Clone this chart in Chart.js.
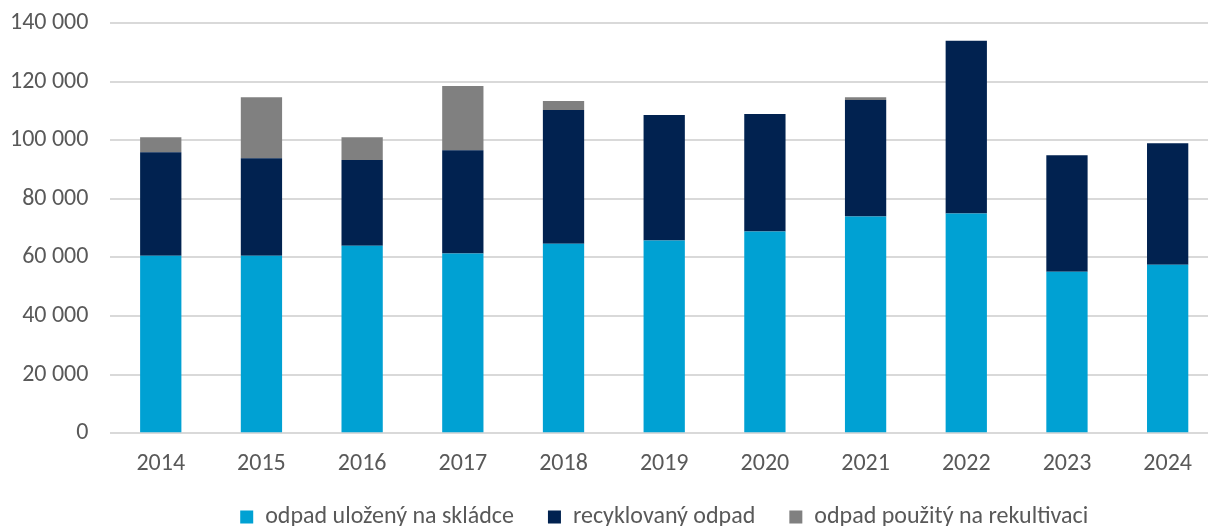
<!DOCTYPE html>
<html>
<head>
<meta charset="utf-8">
<script src="https://cdn.jsdelivr.net/npm/chart.js@4/dist/chart.umd.min.js"></script>
<style>
  html, body { margin: 0; padding: 0; background: #fff; overflow: hidden; }
  #wrap { width: 1218px; height: 541px; }
</style>
</head>
<body>
<div id="wrap"><canvas id="odpadChart"></canvas></div>
<script>
const roky = ['2014', '2015', '2016', '2017', '2018', '2019', '2020', '2021', '2022', '2023', '2024'];
const skladka = [60600, 60600, 64000, 61300, 64700, 65750, 68800, 74000, 75000, 55100, 57500];
const recyklace = [35300, 33200, 29200, 35300, 45600, 42850, 40100, 39700, 58900, 39800, 41500];
const rekultivace = [5100, 20900, 7800, 21900, 3100, 0, 0, 1000, 0, 0, 0];

const pismo = 'Calibri, Carlito, Lato, sans-serif';
const seda = '#595959';
const legendaZkraceni = 21; // o kolik je legenda nižší
const legendaPosun = 23;    // o kolik se legenda posune nahoru

// legenda vycentrovaná na plochu grafu a blíž k ose x
const legendaPlugin = {
    id: 'legendaPlugin',
    beforeLayout(chart) {
        const leg = chart.legend;
        if (leg && !leg._upraveno) {
            const puvodniFit = leg.fit;
            leg.fit = function () {
                puvodniFit.call(this);
                this.height -= legendaZkraceni;
            };
            leg._upraveno = true;
        }
    },
    afterLayout(chart) {
        const leg = chart.legend;
        leg.left = chart.chartArea.left;
        leg.right = chart.chartArea.right;
        leg.top -= legendaPosun;
        leg.bottom = chart.height; // legenda se ořezává na svůj box
    }
};

const ctx = document.getElementById('odpadChart').getContext('2d');
const chart = new Chart(ctx, {
    type: 'bar',
    data: {
        labels: roky,
        datasets: [
            { label: 'odpad uložený na skládce', data: skladka, backgroundColor: '#00A1D3' },
            { label: 'recyklovaný odpad', data: recyklace, backgroundColor: '#012250' },
            { label: 'odpad použitý na rekultivaci', data: rekultivace, backgroundColor: '#808080' }
        ]
    },
    plugins: [legendaPlugin],
    options: {
        responsive: true,
        maintainAspectRatio: false,
        animation: false,
        layout: { padding: { top: 23, right: 0, left: 0, bottom: 0 } },
        datasets: {
            bar: { barPercentage: 0.41, categoryPercentage: 1 }
        },
        scales: {
            x: {
                stacked: true,
                grid: { display: false, drawTicks: false },
                border: { display: false },
                ticks: {
                    color: seda,
                    padding: 16,
                    font: { family: pismo, size: 24 }
                }
            },
            y: {
                stacked: true,
                min: 0,
                max: 140000,
                border: { display: false },
                grid: { color: '#D9D9D9', lineWidth: 2, drawTicks: false },
                afterFit: (scale) => {
                    scale.paddingTop = 12;
                    scale.width -= 12;
                },
                ticks: {
                    stepSize: 20000,
                    color: seda,
                    padding: 22,
                    font: { family: pismo, size: 24 },
                    callback: (v) => v.toString().replace(/\B(?=(\d{3})+(?!\d))/g, ' ')
                }
            }
        },
        plugins: {
            tooltip: { enabled: false },
            legend: {
                position: 'bottom',
                labels: {
                    color: seda,
                    boxWidth: 13,
                    boxHeight: 13,
                    padding: 34,
                    font: { family: pismo, size: 24 }
                }
            }
        }
    }
});
</script>
</body>
</html>
